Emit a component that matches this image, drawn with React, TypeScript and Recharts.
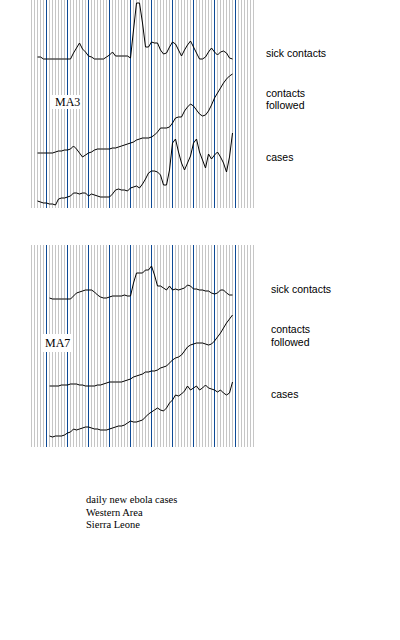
import React from 'react';
import { LineChart, Line, XAxis, YAxis, CartesianGrid } from 'recharts';

// day index of the first point in each moving average
const ma3Start = -3;
const ma7Start = 1;

// 3-day moving averages (height above panel floor)
const ma3Sick = [
  151, 151, 149, 149, 149, 149, 149, 149, 149, 149, 149, 149, 155, 160, 165, 159,
  156, 152, 151, 149, 149, 149, 149, 151, 153, 156, 152, 152, 152, 152, 152, 150,
  178, 205, 205, 185, 161, 161, 166, 165, 165, 158, 154, 155, 161, 166, 164, 158,
  152, 158, 163, 167, 161, 155, 149, 149, 151, 156, 160, 156, 153, 156, 157, 155,
  150, 149,
];
const ma3Contacts = [
  55, 55, 55, 55, 55, 55, 56, 57, 57, 58, 58, 59, 62, 59, 55, 51,
  53, 55, 56, 58, 59, 59, 59, 59, 59, 60, 60, 61, 62, 63, 64, 65,
  66, 68, 69, 70, 70, 70, 71, 73, 76, 80, 80, 80, 81, 85, 90, 91,
  91, 97, 101, 104, 102, 98, 94, 92, 93, 97, 103, 110, 115, 120, 125, 129,
  132, 134,
];
const ma3Cases = [
  7, 6, 5, 5, 4, 4, 3, 9, 10, 10, 11, 12, 15, 15, 14, 15,
  15, 12, 14, 13, 12, 11, 11, 11, 11, 14, 18, 19, 18, 18, 17, 20,
  21, 22, 20, 24, 29, 35, 37, 37, 36, 33, 23, 23, 38, 65, 69, 56,
  45, 38, 45, 52, 65, 69, 56, 48, 40, 54, 49, 53, 56, 51, 45, 36,
  51, 75,
];

// 7-day moving averages
const ma7Sick = [
  149, 148, 148, 148, 148, 148, 148, 148, 151, 154, 155, 156, 157, 157, 157, 155,
  152, 150, 149, 149, 150, 151, 151, 151, 151, 152, 151, 151, 164, 174, 174, 174,
  177, 177, 181, 172, 161, 161, 159, 157, 161, 157, 158, 157, 158, 159, 162, 161,
  158, 158, 157, 157, 156, 156, 154, 153, 154, 157, 157, 154, 152, 152,
];
const ma7Contacts = [
  61, 61, 61, 61, 62, 62, 62, 63, 63, 63, 62, 62, 61, 61, 61, 61,
  62, 62, 63, 64, 65, 65, 65, 65, 65, 66, 67, 68, 70, 71, 72, 73,
  75, 75, 76, 76, 77, 79, 80, 81, 84, 87, 89, 90, 92, 96, 100, 102,
  103, 104, 104, 104, 103, 102, 103, 106, 110, 114, 119, 124, 128, 132,
];
const ma7Cases = [
  11, 10, 11, 11, 11, 12, 14, 15, 18, 17, 18, 19, 20, 20, 19, 18,
  18, 17, 17, 17, 18, 19, 20, 21, 21, 22, 24, 26, 25, 25, 26, 27,
  30, 33, 35, 37, 39, 37, 36, 39, 44, 47, 52, 51, 53, 56, 61, 57,
  59, 61, 57, 59, 62, 59, 58, 57, 55, 57, 54, 52, 54, 65,
];

// one grey rule per day, a blue one at the start of each week
const gridDays = Array.from({ length: 75 }, (_, i) => i - 5);
const weekDays = gridDays.filter((d) => d % 7 === 0);

const seriesLabels = ['sick contacts', 'contacts', 'followed', 'cases'];
const captionLines = ['daily new ebola cases', 'Western Area', 'Sierra Leone'];

const toRows = (start: number, sick: number[], contacts: number[], cases: number[]) =>
  sick.map((v, i) => ({ day: start + i, sick: v, contacts: contacts[i], cases: cases[i] }));

const ma3Rows = toRows(ma3Start, ma3Sick, ma3Contacts, ma3Cases);
const ma7Rows = toRows(ma7Start, ma7Sick, ma7Contacts, ma7Cases);

const Panel = ({ rows, top, height }: { rows: any[]; top: number; height: number }) => (
  <div style={{ position: 'absolute', left: 31, top }}>
    <LineChart width={223} height={height} data={rows} margin={{ top: 0, right: 0.5, bottom: 0, left: 0.5 }}>
      <XAxis xAxisId="day" type="number" dataKey="day" domain={[-5, 69]} ticks={gridDays} interval={0} hide />
      <XAxis xAxisId="week" type="number" dataKey="day" domain={[-5, 69]} ticks={weekDays} interval={0} hide />
      <YAxis domain={[0, height]} hide />
      <CartesianGrid xAxisId="day" horizontal={false} stroke="#c6c6c6" shapeRendering="crispEdges" />
      <CartesianGrid xAxisId="week" horizontal={false} syncWithTicks stroke="#0d4a96" shapeRendering="crispEdges" />
      {['sick', 'contacts', 'cases'].map((key) => (
        <Line
          key={key}
          xAxisId="day"
          type="linear"
          dataKey={key}
          stroke="#000"
          strokeWidth={1}
          dot={false}
          isAnimationActive={false}
        />
      ))}
    </LineChart>
  </div>
);

const sans = '"Liberation Sans", Arial, sans-serif';
const serif = '"Liberation Serif", "Times New Roman", serif';

export default function App() {
  return (
    <div style={{ position: 'absolute', left: 0, top: 0, width: 400, height: 640, background: '#fff' }}>
      <Panel rows={ma3Rows} top={0} height={208} />
      <Panel rows={ma7Rows} top={245} height={202} />
      <svg width={400} height={640} style={{ position: 'absolute', left: 0, top: 0 }}>
        <rect x={52} y={95} width={30} height={14} fill="#fff" />
        <text x={55} y={106} fontFamily={serif} fontSize={12} fill="#000">MA3</text>
        <rect x={42} y={334} width={30} height={18} fill="#fff" />
        <text x={45} y={347} fontFamily={serif} fontSize={12} fill="#000">MA7</text>

        <g fontFamily={sans} fontSize={10.5} fill="#000">
          <text x={266} y={57}>{seriesLabels[0]}</text>
          <text x={266} y={97}>{seriesLabels[1]}</text>
          <text x={266} y={109}>{seriesLabels[2]}</text>
          <text x={266} y={161}>{seriesLabels[3]}</text>
          <text x={271} y={293}>{seriesLabels[0]}</text>
          <text x={271} y={333}>{seriesLabels[1]}</text>
          <text x={271} y={346}>{seriesLabels[2]}</text>
          <text x={271} y={398}>{seriesLabels[3]}</text>
        </g>

        <g fontFamily={serif} fontSize={10.5} fill="#000">
          {captionLines.map((line, i) => (
            <text key={line} x={86} y={503 + i * 12.5}>{line}</text>
          ))}
        </g>
      </svg>
    </div>
  );
}
